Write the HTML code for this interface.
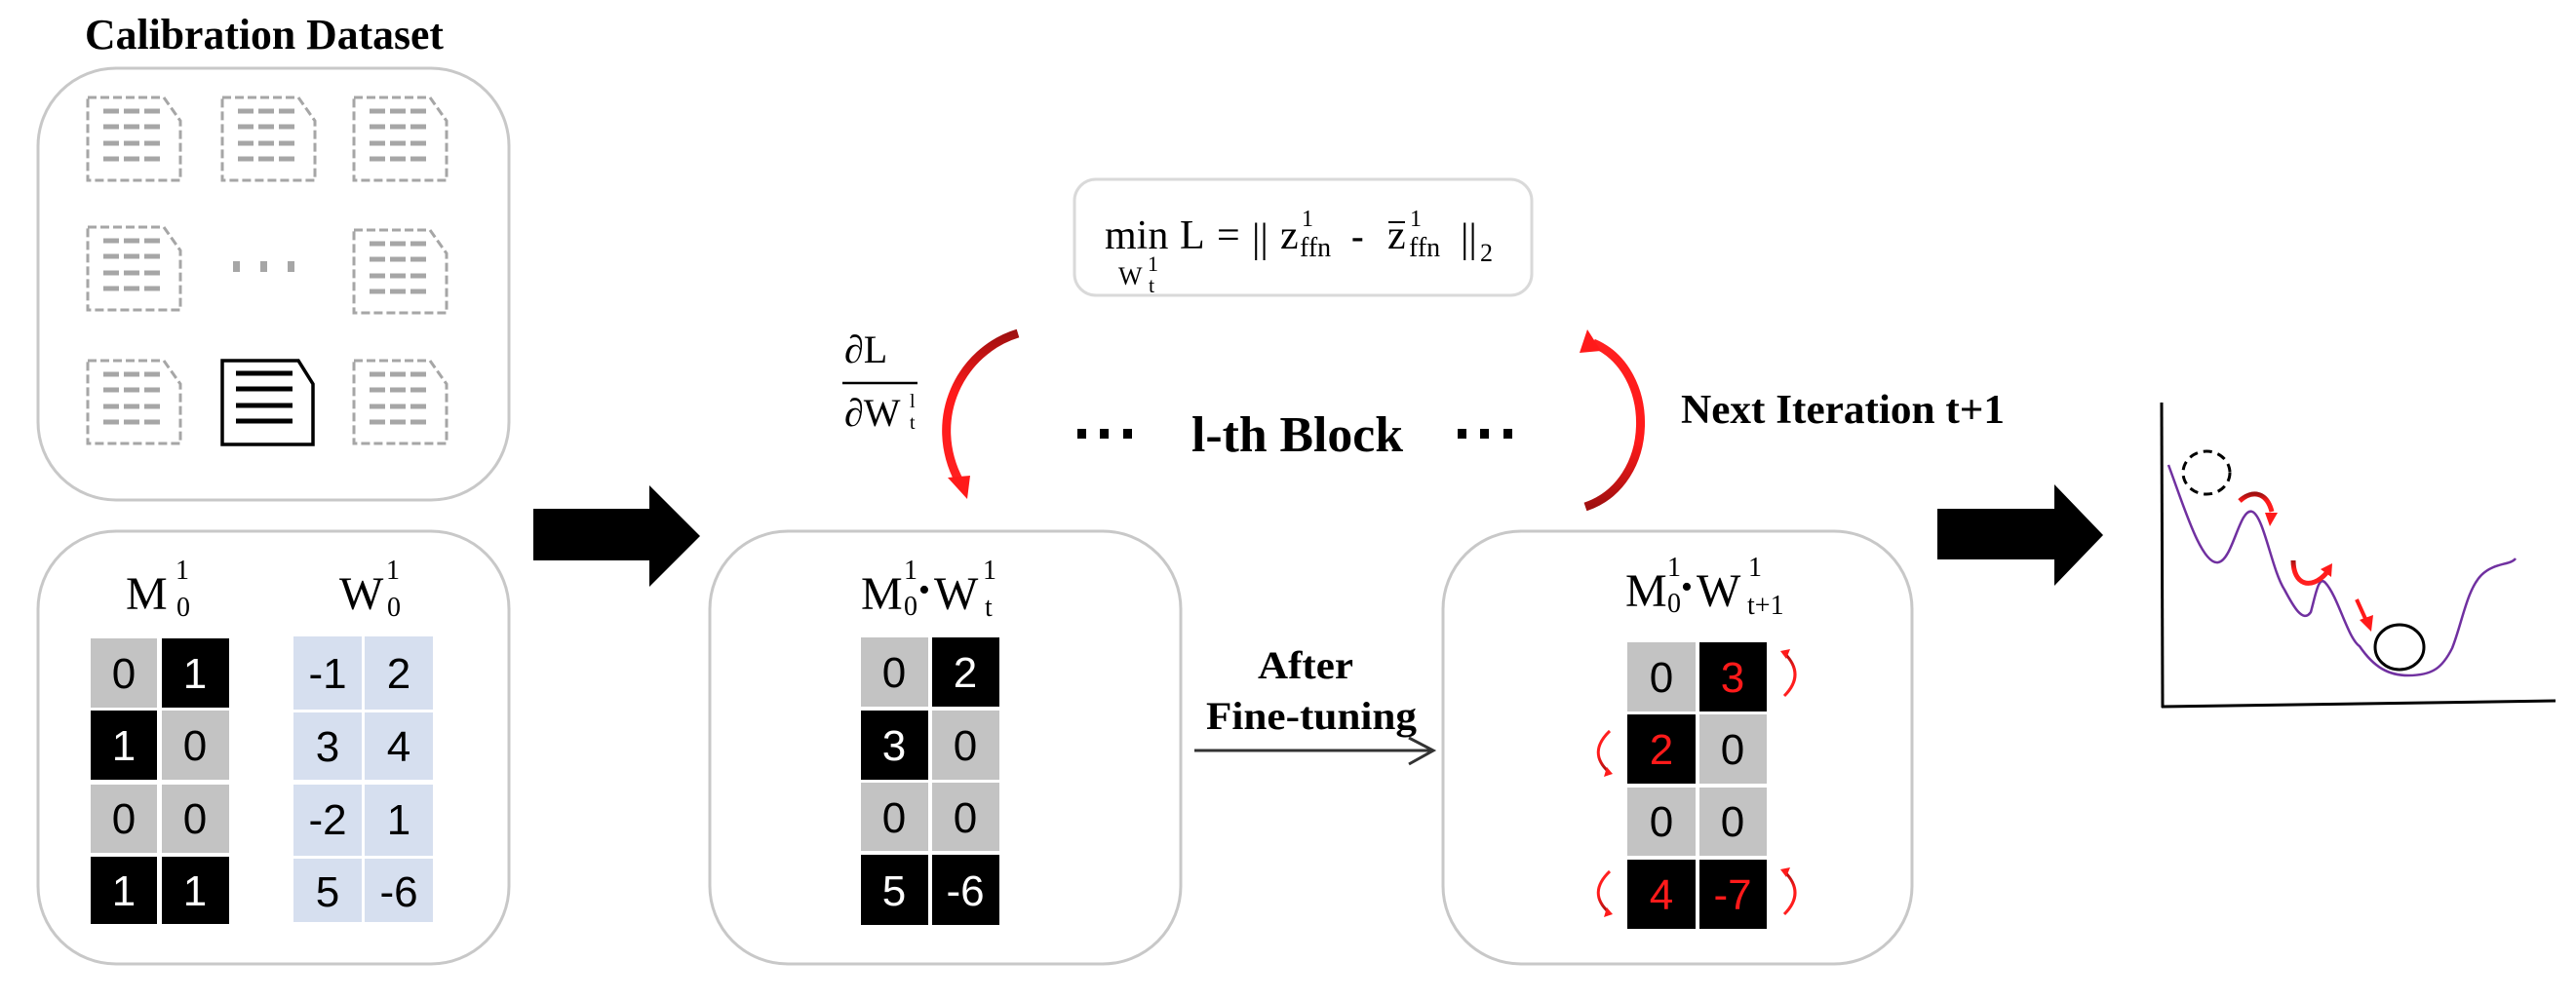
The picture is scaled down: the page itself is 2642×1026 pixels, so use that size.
<!DOCTYPE html>
<html><head><meta charset="utf-8"><style>
html,body{margin:0;padding:0;background:#fff;}
svg{display:block;}
.ser{font-family:"Liberation Serif",serif;}
.san{font-family:"Liberation Sans",sans-serif;}
</style></head><body>
<svg width="2642" height="1026" viewBox="0 0 2642 1026" xmlns="http://www.w3.org/2000/svg">
<defs>
<linearGradient id="gL" x1="0" y1="0" x2="0" y2="1"><stop offset="0" stop-color="#a01010"/><stop offset="0.4" stop-color="#ff1a1a"/><stop offset="1" stop-color="#ff2020"/></linearGradient>
<linearGradient id="gR" x1="0" y1="1" x2="0" y2="0"><stop offset="0" stop-color="#a01010"/><stop offset="0.4" stop-color="#ff1a1a"/><stop offset="1" stop-color="#ff2020"/></linearGradient>
<g id="doc">
<path d="M0,0 H78 L95,24 V85 H0 Z" fill="none" stroke="#a6a6a6" stroke-width="3" stroke-dasharray="9,4"/>
<g stroke="#a6a6a6" stroke-width="5" stroke-dasharray="16,5">
<line x1="16" y1="14" x2="74" y2="14"/><line x1="16" y1="30" x2="74" y2="30"/><line x1="16" y1="47" x2="74" y2="47"/><line x1="16" y1="63" x2="74" y2="63"/>
</g></g>
</defs>

<!-- Title -->
<text x="87" y="50" class="ser" font-weight="bold" font-size="44" textLength="368" lengthAdjust="spacingAndGlyphs">Calibration Dataset</text>

<!-- top box -->
<rect x="39" y="70" width="483" height="443" rx="80" fill="none" stroke="#c8c8c8" stroke-width="3"/>
<use href="#doc" x="90" y="100"/><use href="#doc" x="228" y="100"/><use href="#doc" x="363" y="100"/>
<use href="#doc" x="90" y="233"/><use href="#doc" x="363" y="236"/>
<use href="#doc" x="90" y="370"/><use href="#doc" x="363" y="370"/>
<g>
<path d="M228,370 H306 L321,394 V456 H228 Z" fill="#fff" stroke="#000" stroke-width="3.5"/>
<g stroke="#000" stroke-width="5"><line x1="242" y1="383" x2="300" y2="383"/><line x1="242" y1="399" x2="300" y2="399"/><line x1="242" y1="416" x2="300" y2="416"/><line x1="242" y1="432" x2="300" y2="432"/></g>
</g>
<g fill="#a6a6a6"><rect x="239" y="268" width="7" height="11"/><rect x="267" y="268" width="7" height="11"/><rect x="295" y="268" width="7" height="11"/></g>

<!-- bottom-left box -->
<rect x="39" y="545" width="483" height="444" rx="80" fill="none" stroke="#c8c8c8" stroke-width="3"/>
<text x="129" y="625" class="ser" font-size="48">M</text>
<text x="180" y="594" class="ser" font-size="28">1</text>
<text x="181" y="632" class="ser" font-size="28">0</text>
<text x="348" y="625" class="ser" font-size="48">W</text>
<text x="396" y="594" class="ser" font-size="28">1</text>
<text x="397" y="632" class="ser" font-size="28">0</text>
<g class="san" font-size="44" text-anchor="middle">
<rect x="93" y="655" width="68" height="71" fill="#c3c3c3"/><text x="127" y="706">0</text>
<rect x="166" y="655" width="69" height="71" fill="#000"/><text x="200" y="706" fill="#fff">1</text>
<rect x="93" y="729" width="68" height="71" fill="#000"/><text x="127" y="780" fill="#fff">1</text>
<rect x="166" y="729" width="69" height="71" fill="#c3c3c3"/><text x="200" y="780">0</text>
<rect x="93" y="805" width="68" height="70" fill="#c3c3c3"/><text x="127" y="855">0</text>
<rect x="166" y="805" width="69" height="70" fill="#c3c3c3"/><text x="200" y="855">0</text>
<rect x="93" y="879" width="68" height="69" fill="#000"/><text x="127" y="929" fill="#fff">1</text>
<rect x="166" y="879" width="69" height="69" fill="#000"/><text x="200" y="929" fill="#fff">1</text>

<rect x="301" y="653" width="70" height="75" fill="#d6dfef"/><text x="336" y="706">-1</text>
<rect x="374" y="653" width="70" height="75" fill="#d6dfef"/><text x="409" y="706">2</text>
<rect x="301" y="731" width="70" height="69" fill="#d6dfef"/><text x="336" y="781">3</text>
<rect x="374" y="731" width="70" height="69" fill="#d6dfef"/><text x="409" y="781">4</text>
<rect x="301" y="805" width="70" height="73" fill="#d6dfef"/><text x="336" y="856">-2</text>
<rect x="374" y="805" width="70" height="73" fill="#d6dfef"/><text x="409" y="856">1</text>
<rect x="301" y="881" width="70" height="65" fill="#d6dfef"/><text x="336" y="930">5</text>
<rect x="374" y="881" width="70" height="65" fill="#d6dfef"/><text x="409" y="930">-6</text>
</g>

<!-- big arrow 1 -->
<polygon points="547,522 666,522 666,498 718,550 666,602 666,575 547,575" fill="#000"/>

<!-- middle box -->
<rect x="728" y="545" width="483" height="444" rx="80" fill="none" stroke="#c8c8c8" stroke-width="3"/>
<text x="883" y="625" class="ser" font-size="48">M</text>
<text x="927" y="594" class="ser" font-size="28">1</text>
<text x="927" y="631" class="ser" font-size="28">0</text>
<text x="942" y="616" class="ser" font-size="34">•</text>
<text x="958" y="625" class="ser" font-size="48">W</text>
<text x="1008" y="594" class="ser" font-size="28">1</text>
<text x="1010" y="632" class="ser" font-size="28">t</text>
<g class="san" font-size="44" text-anchor="middle">
<rect x="883" y="654" width="69" height="71" fill="#c3c3c3"/><text x="917" y="705">0</text>
<rect x="956" y="654" width="69" height="71" fill="#000"/><text x="990" y="705" fill="#fff">2</text>
<rect x="883" y="729" width="69" height="71" fill="#000"/><text x="917" y="780" fill="#fff">3</text>
<rect x="956" y="729" width="69" height="71" fill="#c3c3c3"/><text x="990" y="780">0</text>
<rect x="883" y="803" width="69" height="70" fill="#c3c3c3"/><text x="917" y="854">0</text>
<rect x="956" y="803" width="69" height="70" fill="#c3c3c3"/><text x="990" y="854">0</text>
<rect x="883" y="877" width="69" height="72" fill="#000"/><text x="917" y="929" fill="#fff">5</text>
<rect x="956" y="877" width="69" height="72" fill="#000"/><text x="990" y="929" fill="#fff">-6</text>
</g>

<!-- After fine-tuning -->
<text x="1290" y="696" class="ser" font-weight="bold" font-size="40" textLength="98" lengthAdjust="spacingAndGlyphs">After</text>
<text x="1237" y="748" class="ser" font-weight="bold" font-size="40" textLength="216" lengthAdjust="spacingAndGlyphs">Fine-tuning</text>
<line x1="1225" y1="770" x2="1468" y2="770" stroke="#333" stroke-width="3"/>
<polyline points="1445,757 1470,770 1445,784" fill="none" stroke="#333" stroke-width="3"/>

<!-- right box -->
<rect x="1480" y="545" width="481" height="444" rx="80" fill="none" stroke="#c8c8c8" stroke-width="3"/>
<text x="1667" y="622" class="ser" font-size="48">M</text>
<text x="1710" y="591" class="ser" font-size="28">1</text>
<text x="1710" y="628" class="ser" font-size="28">0</text>
<text x="1724" y="613" class="ser" font-size="34">•</text>
<text x="1740" y="622" class="ser" font-size="48">W</text>
<text x="1793" y="591" class="ser" font-size="28">1</text>
<text x="1792" y="630" class="ser" font-size="28">t+1</text>
<g class="san" font-size="44" text-anchor="middle">
<rect x="1669" y="659" width="70" height="71" fill="#c3c3c3"/><text x="1704" y="710">0</text>
<rect x="1743" y="659" width="69" height="71" fill="#000"/><text x="1777" y="710" fill="#ff1a1a">3</text>
<rect x="1669" y="733" width="70" height="71" fill="#000"/><text x="1704" y="784" fill="#ff1a1a">2</text>
<rect x="1743" y="733" width="69" height="71" fill="#c3c3c3"/><text x="1777" y="784">0</text>
<rect x="1669" y="808" width="70" height="70" fill="#c3c3c3"/><text x="1704" y="858">0</text>
<rect x="1743" y="808" width="69" height="70" fill="#c3c3c3"/><text x="1777" y="858">0</text>
<rect x="1669" y="882" width="70" height="71" fill="#000"/><text x="1704" y="933" fill="#ff1a1a">4</text>
<rect x="1743" y="882" width="69" height="71" fill="#000"/><text x="1777" y="933" fill="#ff1a1a">-7</text>
</g>
<!-- small red arrows -->
<g fill="none" stroke-width="3">
<path d="M1830,670 Q1852,692 1830,714" stroke="url(#gL)"/>
<path d="M1830,894 Q1852,916 1830,938" stroke="url(#gL)"/>
<path d="M1651,750 Q1628,772 1650,792" stroke="url(#gR)"/>
<path d="M1651,894 Q1628,916 1650,936" stroke="url(#gR)"/>
</g>
<g fill="#ff1a1a">
<polygon points="1826,668 1836,666 1832,676"/>
<polygon points="1826,892 1836,890 1832,900"/>
<polygon points="1654,794 1645,797 1648,787"/>
<polygon points="1654,938 1645,941 1648,931"/>
</g>

<!-- formula box -->
<rect x="1102" y="184" width="469" height="119" rx="22" fill="none" stroke="#d9d9d9" stroke-width="3"/>
<g class="ser">
<text x="1133" y="255" font-size="42">min</text>
<text x="1147" y="292" font-size="26">W</text>
<text x="1177" y="278" font-size="22">1</text>
<text x="1178" y="300" font-size="22">t</text>
<text x="1210" y="255" font-size="42">L</text>
<text x="1248" y="255" font-size="42">=</text>
<text x="1284" y="258" font-size="42">||</text>
<text x="1313" y="255" font-size="42">z</text>
<text x="1335" y="232" font-size="24">1</text>
<text x="1333" y="263" font-size="28">ffn</text>
<text x="1386" y="255" font-size="38" font-weight="bold">-</text>
<text x="1423" y="255" font-size="42">z</text>
<line x1="1424" y1="228" x2="1441" y2="228" stroke="#000" stroke-width="2"/>
<text x="1446" y="232" font-size="24">1</text>
<text x="1445" y="263" font-size="28">ffn</text>
<text x="1498" y="258" font-size="42">||</text>
<text x="1518" y="268" font-size="26">2</text>
</g>

<!-- partial derivative -->
<g class="ser">
<text x="866" y="372" font-size="40">∂L</text>
<line x1="864" y1="393" x2="941" y2="393" stroke="#000" stroke-width="2.5"/>
<text x="866" y="437" font-size="40">∂W</text>
<text x="933" y="418" font-size="20">l</text>
<text x="933" y="440" font-size="20">t</text>
</g>

<!-- big red curved arrows -->
<path d="M1044,342 C985,360 950,430 984,494" fill="none" stroke="url(#gL)" stroke-width="9"/>
<polygon points="972,490 995,488 992,512" fill="#ff1a1a"/>
<path d="M1626,520 C1700,495 1700,380 1634,352" fill="none" stroke="url(#gR)" stroke-width="9"/>
<polygon points="1628,338 1642,360 1620,362" fill="#ff1a1a"/>

<!-- l-th Block -->
<g fill="#000"><rect x="1105" y="440" width="9" height="10"/><rect x="1128" y="440" width="9" height="10"/><rect x="1152" y="440" width="9" height="10"/>
<rect x="1495" y="440" width="9" height="10"/><rect x="1518" y="440" width="9" height="10"/><rect x="1542" y="440" width="9" height="10"/></g>
<text x="1222" y="463" class="ser" font-weight="bold" font-size="52" textLength="217" lengthAdjust="spacingAndGlyphs">l-th Block</text>

<text x="1724" y="434" class="ser" font-weight="bold" font-size="42" textLength="332" lengthAdjust="spacingAndGlyphs">Next Iteration t+1</text>

<!-- big arrow 2 -->
<polygon points="1987,522 2107,522 2107,497 2157,549 2107,601 2107,574 1987,574" fill="#000"/>

<!-- chart -->
<line x1="2217" y1="413" x2="2218" y2="726" stroke="#000" stroke-width="3"/>
<line x1="2217" y1="725" x2="2621" y2="719" stroke="#000" stroke-width="3"/>
<path d="M2224,477 C2240,520 2258,580 2275,577 C2290,575 2297,520 2310,525 C2322,530 2330,585 2343,605 C2352,622 2362,640 2370,628 C2375,610 2378,590 2385,598 C2398,612 2408,655 2420,663 C2435,685 2450,693 2470,693 C2495,693 2505,685 2515,665 C2525,640 2530,605 2545,590 C2558,577 2575,580 2580,573" fill="none" stroke="#7030a0" stroke-width="2.5"/>
<ellipse cx="2263" cy="485" rx="24" ry="22" fill="none" stroke="#000" stroke-width="3" stroke-dasharray="9,6"/>
<ellipse cx="2461" cy="664" rx="25" ry="23" fill="none" stroke="#000" stroke-width="3"/>
<path d="M2297,514 C2310,502 2325,505 2330,525" fill="none" stroke="url(#gL)" stroke-width="5"/>
<polygon points="2323,526 2336,526 2328,540" fill="#ff1a1a"/>
<path d="M2352,575 C2352,600 2370,606 2386,588" fill="none" stroke="url(#gL)" stroke-width="5"/>
<polygon points="2380,584 2392,578 2391,592" fill="#ff1a1a"/>
<line x1="2417" y1="615" x2="2427" y2="637" stroke="#ff1a1a" stroke-width="4"/>
<polygon points="2420,636 2434,631 2432,648" fill="#ff1a1a"/>
</svg>
</body></html>
